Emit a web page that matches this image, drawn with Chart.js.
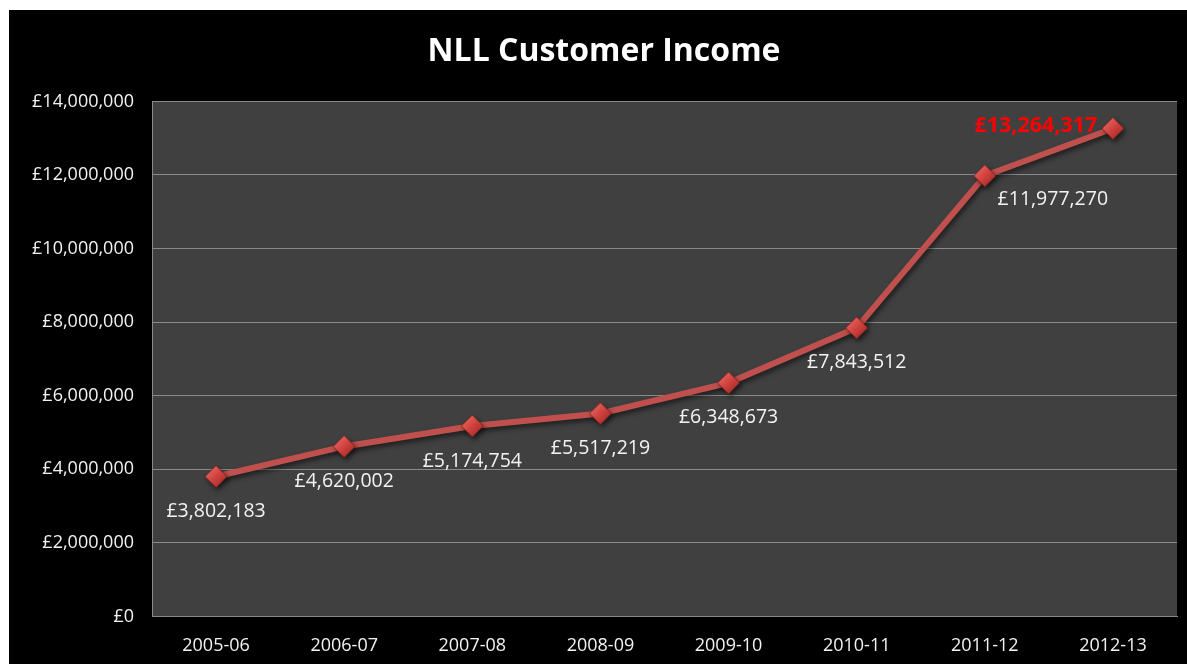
<!DOCTYPE html>
<html>
<head>
<meta charset="utf-8">
<script src="https://cdn.jsdelivr.net/npm/chart.js@4"></script>
<style>
  html, body { margin: 0; padding: 0; background: #fff; overflow: hidden; }
  #wrap { position: absolute; left: 9px; top: 10px; width: 1178px; height: 654px; background: #000; }
  canvas { display: block; }
</style>
</head>
<body>
<div id="wrap"><canvas id="chart"></canvas></div>
<script>
// data
const years = ["2005-06", "2006-07", "2007-08", "2008-09", "2009-10", "2010-11", "2011-12", "2012-13"];
const income = [3802183, 4620002, 5174754, 5517219, 6348673, 7843512, 11977270, 13264317];
const yTicks = [0, 2000000, 4000000, 6000000, 8000000, 10000000, 12000000, 14000000];

const money = (v) => "£" + v.toLocaleString("en-GB");

// label offsets from each point (px)
const labelShift = [[0, 35], [0, 35], [0, 35], [0, 35], [0, 35], [0, 35], [68, 24], [-77, -3]];

// diamond marker with a bit of shading
const diamond = document.createElement("canvas");
diamond.width = 24; diamond.height = 24;
(function () {
  const c = diamond.getContext("2d");
  const g = c.createLinearGradient(0, 0, 24, 24);
  g.addColorStop(0, "#f07a76");
  g.addColorStop(0.5, "#d0423e");
  g.addColorStop(1, "#8e2422");
  c.beginPath();
  c.moveTo(12, 1); c.lineTo(23, 12); c.lineTo(12, 23); c.lineTo(1, 12); c.closePath();
  c.fillStyle = g;
  c.fill();
  c.strokeStyle = "rgba(120,30,28,0.8)";
  c.lineWidth = 1;
  c.stroke();
})();

const bgPlugin = {
  id: "bg",
  beforeDraw(chart) {
    const { ctx, chartArea: a } = chart;
    ctx.save();
    ctx.fillStyle = "#000";
    ctx.fillRect(0, 0, chart.width, chart.height);
    ctx.fillStyle = "#404040";
    ctx.fillRect(a.left, a.top, a.right - a.left, a.bottom - a.top);
    ctx.restore();
  },
  beforeDatasetDraw(chart) {
    const ctx = chart.ctx;
    ctx.save();
    ctx.shadowColor = "rgba(0,0,0,0.55)";
    ctx.shadowBlur = 5;
    ctx.shadowOffsetX = 2;
    ctx.shadowOffsetY = 3;
  },
  afterDatasetDraw(chart) {
    chart.ctx.restore();
  }
};

const labelPlugin = {
  id: "pointLabels",
  afterDatasetsDraw(chart) {
    const { ctx } = chart;
    const meta = chart.getDatasetMeta(0);
    ctx.save();
    ctx.textAlign = "center";
    ctx.textBaseline = "middle";
    meta.data.forEach((pt, i) => {
      const last = i === income.length - 1;
      ctx.font = last ? "bold 21.5px 'Open Sans'" : "19.5px 'Open Sans'";
      ctx.fillStyle = last ? "#ff0000" : "#f2f2f2";
      ctx.fillText(money(income[i]), pt.x + labelShift[i][0], pt.y + labelShift[i][1]);
    });
    ctx.restore();
  }
};

new Chart(document.getElementById("chart"), {
  type: "line",
  data: {
    labels: years,
    datasets: [{
      data: income,
      borderColor: "#c0504d",
      borderWidth: 6,
      pointStyle: diamond,
      pointRadius: 12,
      pointHoverRadius: 12,
      tension: 0
    }]
  },
  options: {
    responsive: true,
    maintainAspectRatio: false,
    animation: false,
    layout: { autoPadding: false, padding: { left: 12, right: 0, top: 0, bottom: -4 } },
    plugins: {
      legend: { display: false },
      tooltip: { enabled: false },
      title: {
        display: true,
        text: "NLL Customer Income",
        color: "#fff",
        font: { family: "'Open Sans'", size: 32, weight: "bold" },
        padding: { top: 23, bottom: 30 }
      }
    },
    scales: {
      x: {
        offset: true,
        grid: { display: false },
        border: { color: "#8a8a8a", width: 1 },
        ticks: { color: "#f2f2f2", font: { family: "'Open Sans'", size: 18 }, padding: 11 },
        afterFit(axis) { axis.paddingLeft = 0; axis.paddingRight = 10; }
      },
      y: {
        min: 0,
        max: 14000000,
        afterBuildTicks(axis) { axis.ticks = yTicks.map((v) => ({ value: v })); },
        afterFit(axis) { axis.width = 131; },
        grid: { color: "#8a8a8a", lineWidth: 1, drawTicks: false },
        border: { color: "#8a8a8a", width: 1 },
        ticks: {
          color: "#f2f2f2",
          font: { family: "'Open Sans'", size: 18 },
          padding: 18,
          callback: (v) => money(v)
        }
      }
    }
  },
  plugins: [bgPlugin, labelPlugin]
});
</script>
</body>
</html>
